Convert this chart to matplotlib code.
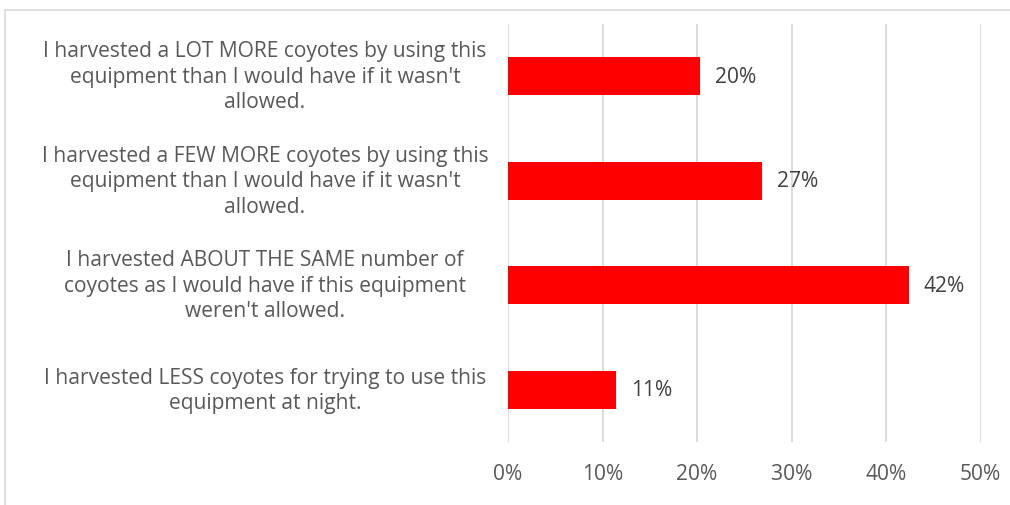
import matplotlib
matplotlib.use('agg')
import matplotlib.pyplot as plt
from matplotlib.patches import Rectangle

# data
labels = [
    "I harvested a LOT MORE coyotes by using this\nequipment than I would have if it wasn't\nallowed.",
    "I harvested a FEW MORE coyotes by using this\nequipment than I would have if it wasn't\nallowed.",
    "I harvested ABOUT THE SAME number of\ncoyotes as I would have if this equipment\nweren't allowed.",
    "I harvested LESS coyotes for trying to use this\nequipment at night.",
]
values = [20.3, 26.9, 42.4, 11.4]
ticks = [0, 10, 20, 30, 40, 50]

W, H = 1010, 506
fig = plt.figure(figsize=(W / 100, H / 100), dpi=100)
plt.rcParams['font.family'] = ['Open Sans', 'DejaVu Sans']
txt_col = '#595959'
fs = 15.1

# chart frame
fig.patches.append(Rectangle((5 / W, 0 - 2 / H), (W + 10) / W, (H - 11 + 2) / H,
                             transform=fig.transFigure, fill=False,
                             edgecolor='#d9d9d9', linewidth=1.2))

ax = fig.add_axes([508 / W, (H - 443) / H, (980.7 - 508) / W, (443 - 25) / H])
ypos = list(range(len(values)))
ax.barh(ypos, values, height=0.36, color='#ff0000', zorder=3)
ax.set_ylim(len(values) - 0.5, -0.5)
ax.set_xlim(0, 50)
ax.set_xticks(ticks)
ax.set_xticklabels([f"{t}%" for t in ticks], fontsize=fs, color=txt_col)
ax.tick_params(axis='x', length=0, pad=15)
ax.set_yticks([])
ax.grid(axis='x', color='#d9d9d9', linewidth=1.3, zorder=0)
for s in ax.spines.values():
    s.set_visible(False)

for y, v in zip(ypos, values):
    ax.text(v + 1.6, y, f"{round(v)}%", va='center', ha='left', fontsize=fs, color='#404040')

# category labels, centered block to the left of the axis
for y, lab in zip(ypos, labels):
    yy = ax.transData.transform((0, y))[1]
    fig.text(265 / W, yy / H, lab, ha='center', va='center', fontsize=fs,
             color=txt_col, linespacing=1.27, multialignment='center')

plt.savefig('out.png', dpi=100)
plt.close()
